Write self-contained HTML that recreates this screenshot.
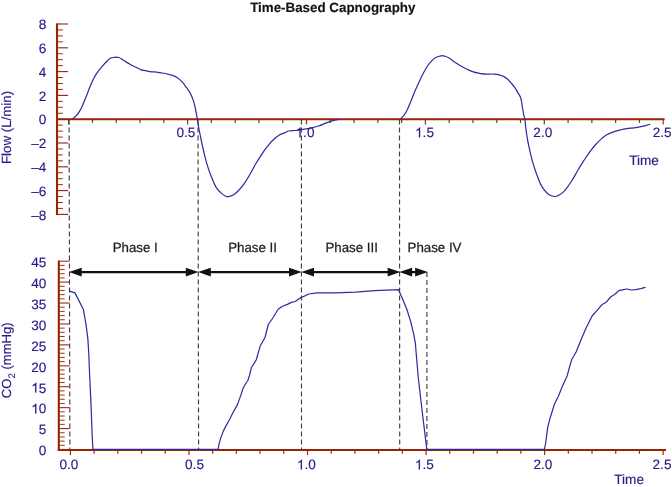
<!DOCTYPE html>
<html><head><meta charset="utf-8"><title>Time-Based Capnography</title>
<style>
html,body{margin:0;padding:0;background:#fff;}
body{width:672px;height:487px;overflow:hidden;font-family:"Liberation Sans",sans-serif;}
svg{display:block;will-change:transform;}
text{text-rendering:geometricPrecision;}
</style></head><body>
<svg width="672" height="487" viewBox="0 0 672 487">
<rect width="672" height="487" fill="#ffffff"/>
<line x1="57.0" y1="214.4" x2="68.1" y2="214.4" stroke="#9c2c12" stroke-width="1.15"/>
<line x1="57.0" y1="208.45" x2="62.9" y2="208.45" stroke="#9c2c12" stroke-width="1.0"/>
<line x1="57.0" y1="202.5" x2="62.9" y2="202.5" stroke="#9c2c12" stroke-width="1.0"/>
<line x1="57.0" y1="196.55" x2="62.9" y2="196.55" stroke="#9c2c12" stroke-width="1.0"/>
<line x1="57.0" y1="190.6" x2="68.1" y2="190.6" stroke="#9c2c12" stroke-width="1.15"/>
<line x1="57.0" y1="184.65" x2="62.9" y2="184.65" stroke="#9c2c12" stroke-width="1.0"/>
<line x1="57.0" y1="178.7" x2="62.9" y2="178.7" stroke="#9c2c12" stroke-width="1.0"/>
<line x1="57.0" y1="172.75" x2="62.9" y2="172.75" stroke="#9c2c12" stroke-width="1.0"/>
<line x1="57.0" y1="166.8" x2="68.1" y2="166.8" stroke="#9c2c12" stroke-width="1.15"/>
<line x1="57.0" y1="160.85" x2="62.9" y2="160.85" stroke="#9c2c12" stroke-width="1.0"/>
<line x1="57.0" y1="154.9" x2="62.9" y2="154.9" stroke="#9c2c12" stroke-width="1.0"/>
<line x1="57.0" y1="148.95" x2="62.9" y2="148.95" stroke="#9c2c12" stroke-width="1.0"/>
<line x1="57.0" y1="143" x2="68.1" y2="143" stroke="#9c2c12" stroke-width="1.15"/>
<line x1="57.0" y1="137.05" x2="62.9" y2="137.05" stroke="#9c2c12" stroke-width="1.0"/>
<line x1="57.0" y1="131.1" x2="62.9" y2="131.1" stroke="#9c2c12" stroke-width="1.0"/>
<line x1="57.0" y1="125.15" x2="62.9" y2="125.15" stroke="#9c2c12" stroke-width="1.0"/>
<line x1="57.0" y1="119.2" x2="68.1" y2="119.2" stroke="#9c2c12" stroke-width="1.15"/>
<line x1="57.0" y1="113.25" x2="62.9" y2="113.25" stroke="#9c2c12" stroke-width="1.0"/>
<line x1="57.0" y1="107.3" x2="62.9" y2="107.3" stroke="#9c2c12" stroke-width="1.0"/>
<line x1="57.0" y1="101.35" x2="62.9" y2="101.35" stroke="#9c2c12" stroke-width="1.0"/>
<line x1="57.0" y1="95.4" x2="68.1" y2="95.4" stroke="#9c2c12" stroke-width="1.15"/>
<line x1="57.0" y1="89.45" x2="62.9" y2="89.45" stroke="#9c2c12" stroke-width="1.0"/>
<line x1="57.0" y1="83.5" x2="62.9" y2="83.5" stroke="#9c2c12" stroke-width="1.0"/>
<line x1="57.0" y1="77.55" x2="62.9" y2="77.55" stroke="#9c2c12" stroke-width="1.0"/>
<line x1="57.0" y1="71.6" x2="68.1" y2="71.6" stroke="#9c2c12" stroke-width="1.15"/>
<line x1="57.0" y1="65.65" x2="62.9" y2="65.65" stroke="#9c2c12" stroke-width="1.0"/>
<line x1="57.0" y1="59.7" x2="62.9" y2="59.7" stroke="#9c2c12" stroke-width="1.0"/>
<line x1="57.0" y1="53.75" x2="62.9" y2="53.75" stroke="#9c2c12" stroke-width="1.0"/>
<line x1="57.0" y1="47.8" x2="68.1" y2="47.8" stroke="#9c2c12" stroke-width="1.15"/>
<line x1="57.0" y1="41.85" x2="62.9" y2="41.85" stroke="#9c2c12" stroke-width="1.0"/>
<line x1="57.0" y1="35.9" x2="62.9" y2="35.9" stroke="#9c2c12" stroke-width="1.0"/>
<line x1="57.0" y1="29.95" x2="62.9" y2="29.95" stroke="#9c2c12" stroke-width="1.0"/>
<line x1="57.0" y1="24" x2="68.1" y2="24" stroke="#9c2c12" stroke-width="1.15"/>
<line x1="68.7" y1="119.2" x2="68.7" y2="124.4" stroke="#9c2c12" stroke-width="1.2"/>
<line x1="92.48" y1="119.2" x2="92.48" y2="122.9" stroke="#9c2c12" stroke-width="1.2"/>
<line x1="116.26" y1="119.2" x2="116.26" y2="122.9" stroke="#9c2c12" stroke-width="1.2"/>
<line x1="140.04" y1="119.2" x2="140.04" y2="122.9" stroke="#9c2c12" stroke-width="1.2"/>
<line x1="163.82" y1="119.2" x2="163.82" y2="122.9" stroke="#9c2c12" stroke-width="1.2"/>
<line x1="187.6" y1="119.2" x2="187.6" y2="124.4" stroke="#9c2c12" stroke-width="1.2"/>
<line x1="211.38" y1="119.2" x2="211.38" y2="122.9" stroke="#9c2c12" stroke-width="1.2"/>
<line x1="235.16" y1="119.2" x2="235.16" y2="122.9" stroke="#9c2c12" stroke-width="1.2"/>
<line x1="258.94" y1="119.2" x2="258.94" y2="122.9" stroke="#9c2c12" stroke-width="1.2"/>
<line x1="282.72" y1="119.2" x2="282.72" y2="122.9" stroke="#9c2c12" stroke-width="1.2"/>
<line x1="306.5" y1="119.2" x2="306.5" y2="124.4" stroke="#9c2c12" stroke-width="1.2"/>
<line x1="330.28" y1="119.2" x2="330.28" y2="122.9" stroke="#9c2c12" stroke-width="1.2"/>
<line x1="354.06" y1="119.2" x2="354.06" y2="122.9" stroke="#9c2c12" stroke-width="1.2"/>
<line x1="377.84" y1="119.2" x2="377.84" y2="122.9" stroke="#9c2c12" stroke-width="1.2"/>
<line x1="401.62" y1="119.2" x2="401.62" y2="122.9" stroke="#9c2c12" stroke-width="1.2"/>
<line x1="425.4" y1="119.2" x2="425.4" y2="124.4" stroke="#9c2c12" stroke-width="1.2"/>
<line x1="449.18" y1="119.2" x2="449.18" y2="122.9" stroke="#9c2c12" stroke-width="1.2"/>
<line x1="472.96" y1="119.2" x2="472.96" y2="122.9" stroke="#9c2c12" stroke-width="1.2"/>
<line x1="496.74" y1="119.2" x2="496.74" y2="122.9" stroke="#9c2c12" stroke-width="1.2"/>
<line x1="520.52" y1="119.2" x2="520.52" y2="122.9" stroke="#9c2c12" stroke-width="1.2"/>
<line x1="544.3" y1="119.2" x2="544.3" y2="124.4" stroke="#9c2c12" stroke-width="1.2"/>
<line x1="568.08" y1="119.2" x2="568.08" y2="122.9" stroke="#9c2c12" stroke-width="1.2"/>
<line x1="591.86" y1="119.2" x2="591.86" y2="122.9" stroke="#9c2c12" stroke-width="1.2"/>
<line x1="615.64" y1="119.2" x2="615.64" y2="122.9" stroke="#9c2c12" stroke-width="1.2"/>
<line x1="639.42" y1="119.2" x2="639.42" y2="122.9" stroke="#9c2c12" stroke-width="1.2"/>
<line x1="663.2" y1="119.2" x2="663.2" y2="124.4" stroke="#9c2c12" stroke-width="1.2"/>
<line x1="57.0" y1="23.4" x2="57.0" y2="215.1" stroke="#982402" stroke-width="2.1"/>
<line x1="56.0" y1="119.2" x2="664.6" y2="119.2" stroke="#982402" stroke-width="2.1"/>
<line x1="58.8" y1="449.5" x2="69.6" y2="449.5" stroke="#9c2c12" stroke-width="1.1"/>
<line x1="58.8" y1="445.31" x2="64.7" y2="445.31" stroke="#9c2c12" stroke-width="0.95"/>
<line x1="58.8" y1="441.13" x2="64.7" y2="441.13" stroke="#9c2c12" stroke-width="0.95"/>
<line x1="58.8" y1="436.94" x2="64.7" y2="436.94" stroke="#9c2c12" stroke-width="0.95"/>
<line x1="58.8" y1="432.76" x2="64.7" y2="432.76" stroke="#9c2c12" stroke-width="0.95"/>
<line x1="58.8" y1="428.57" x2="69.6" y2="428.57" stroke="#9c2c12" stroke-width="1.1"/>
<line x1="58.8" y1="424.39" x2="64.7" y2="424.39" stroke="#9c2c12" stroke-width="0.95"/>
<line x1="58.8" y1="420.2" x2="64.7" y2="420.2" stroke="#9c2c12" stroke-width="0.95"/>
<line x1="58.8" y1="416.02" x2="64.7" y2="416.02" stroke="#9c2c12" stroke-width="0.95"/>
<line x1="58.8" y1="411.83" x2="64.7" y2="411.83" stroke="#9c2c12" stroke-width="0.95"/>
<line x1="58.8" y1="407.65" x2="69.6" y2="407.65" stroke="#9c2c12" stroke-width="1.1"/>
<line x1="58.8" y1="403.47" x2="64.7" y2="403.47" stroke="#9c2c12" stroke-width="0.95"/>
<line x1="58.8" y1="399.28" x2="64.7" y2="399.28" stroke="#9c2c12" stroke-width="0.95"/>
<line x1="58.8" y1="395.1" x2="64.7" y2="395.1" stroke="#9c2c12" stroke-width="0.95"/>
<line x1="58.8" y1="390.91" x2="64.7" y2="390.91" stroke="#9c2c12" stroke-width="0.95"/>
<line x1="58.8" y1="386.73" x2="69.6" y2="386.73" stroke="#9c2c12" stroke-width="1.1"/>
<line x1="58.8" y1="382.54" x2="64.7" y2="382.54" stroke="#9c2c12" stroke-width="0.95"/>
<line x1="58.8" y1="378.36" x2="64.7" y2="378.36" stroke="#9c2c12" stroke-width="0.95"/>
<line x1="58.8" y1="374.17" x2="64.7" y2="374.17" stroke="#9c2c12" stroke-width="0.95"/>
<line x1="58.8" y1="369.99" x2="64.7" y2="369.99" stroke="#9c2c12" stroke-width="0.95"/>
<line x1="58.8" y1="365.8" x2="69.6" y2="365.8" stroke="#9c2c12" stroke-width="1.1"/>
<line x1="58.8" y1="361.62" x2="64.7" y2="361.62" stroke="#9c2c12" stroke-width="0.95"/>
<line x1="58.8" y1="357.43" x2="64.7" y2="357.43" stroke="#9c2c12" stroke-width="0.95"/>
<line x1="58.8" y1="353.25" x2="64.7" y2="353.25" stroke="#9c2c12" stroke-width="0.95"/>
<line x1="58.8" y1="349.06" x2="64.7" y2="349.06" stroke="#9c2c12" stroke-width="0.95"/>
<line x1="58.8" y1="344.88" x2="69.6" y2="344.88" stroke="#9c2c12" stroke-width="1.1"/>
<line x1="58.8" y1="340.69" x2="64.7" y2="340.69" stroke="#9c2c12" stroke-width="0.95"/>
<line x1="58.8" y1="336.5" x2="64.7" y2="336.5" stroke="#9c2c12" stroke-width="0.95"/>
<line x1="58.8" y1="332.32" x2="64.7" y2="332.32" stroke="#9c2c12" stroke-width="0.95"/>
<line x1="58.8" y1="328.13" x2="64.7" y2="328.13" stroke="#9c2c12" stroke-width="0.95"/>
<line x1="58.8" y1="323.95" x2="69.6" y2="323.95" stroke="#9c2c12" stroke-width="1.1"/>
<line x1="58.8" y1="319.76" x2="64.7" y2="319.76" stroke="#9c2c12" stroke-width="0.95"/>
<line x1="58.8" y1="315.58" x2="64.7" y2="315.58" stroke="#9c2c12" stroke-width="0.95"/>
<line x1="58.8" y1="311.39" x2="64.7" y2="311.39" stroke="#9c2c12" stroke-width="0.95"/>
<line x1="58.8" y1="307.21" x2="64.7" y2="307.21" stroke="#9c2c12" stroke-width="0.95"/>
<line x1="58.8" y1="303.02" x2="69.6" y2="303.02" stroke="#9c2c12" stroke-width="1.1"/>
<line x1="58.8" y1="298.84" x2="64.7" y2="298.84" stroke="#9c2c12" stroke-width="0.95"/>
<line x1="58.8" y1="294.65" x2="64.7" y2="294.65" stroke="#9c2c12" stroke-width="0.95"/>
<line x1="58.8" y1="290.47" x2="64.7" y2="290.47" stroke="#9c2c12" stroke-width="0.95"/>
<line x1="58.8" y1="286.29" x2="64.7" y2="286.29" stroke="#9c2c12" stroke-width="0.95"/>
<line x1="58.8" y1="282.1" x2="69.6" y2="282.1" stroke="#9c2c12" stroke-width="1.1"/>
<line x1="58.8" y1="277.92" x2="64.7" y2="277.92" stroke="#9c2c12" stroke-width="0.95"/>
<line x1="58.8" y1="273.73" x2="64.7" y2="273.73" stroke="#9c2c12" stroke-width="0.95"/>
<line x1="58.8" y1="269.55" x2="64.7" y2="269.55" stroke="#9c2c12" stroke-width="0.95"/>
<line x1="58.8" y1="265.36" x2="64.7" y2="265.36" stroke="#9c2c12" stroke-width="0.95"/>
<line x1="58.8" y1="261.18" x2="69.6" y2="261.18" stroke="#9c2c12" stroke-width="1.1"/>
<line x1="70.4" y1="450.0" x2="70.4" y2="455" stroke="#9c2c12" stroke-width="1.2"/>
<line x1="94.11" y1="450.0" x2="94.11" y2="453.8" stroke="#9c2c12" stroke-width="1.2"/>
<line x1="117.82" y1="450.0" x2="117.82" y2="453.8" stroke="#9c2c12" stroke-width="1.2"/>
<line x1="141.53" y1="450.0" x2="141.53" y2="453.8" stroke="#9c2c12" stroke-width="1.2"/>
<line x1="165.24" y1="450.0" x2="165.24" y2="453.8" stroke="#9c2c12" stroke-width="1.2"/>
<line x1="188.95" y1="450.0" x2="188.95" y2="455" stroke="#9c2c12" stroke-width="1.2"/>
<line x1="212.66" y1="450.0" x2="212.66" y2="453.8" stroke="#9c2c12" stroke-width="1.2"/>
<line x1="236.37" y1="450.0" x2="236.37" y2="453.8" stroke="#9c2c12" stroke-width="1.2"/>
<line x1="260.08" y1="450.0" x2="260.08" y2="453.8" stroke="#9c2c12" stroke-width="1.2"/>
<line x1="283.79" y1="450.0" x2="283.79" y2="453.8" stroke="#9c2c12" stroke-width="1.2"/>
<line x1="307.5" y1="450.0" x2="307.5" y2="455" stroke="#9c2c12" stroke-width="1.2"/>
<line x1="331.21" y1="450.0" x2="331.21" y2="453.8" stroke="#9c2c12" stroke-width="1.2"/>
<line x1="354.92" y1="450.0" x2="354.92" y2="453.8" stroke="#9c2c12" stroke-width="1.2"/>
<line x1="378.63" y1="450.0" x2="378.63" y2="453.8" stroke="#9c2c12" stroke-width="1.2"/>
<line x1="402.34" y1="450.0" x2="402.34" y2="453.8" stroke="#9c2c12" stroke-width="1.2"/>
<line x1="426.05" y1="450.0" x2="426.05" y2="455" stroke="#9c2c12" stroke-width="1.2"/>
<line x1="449.76" y1="450.0" x2="449.76" y2="453.8" stroke="#9c2c12" stroke-width="1.2"/>
<line x1="473.47" y1="450.0" x2="473.47" y2="453.8" stroke="#9c2c12" stroke-width="1.2"/>
<line x1="497.18" y1="450.0" x2="497.18" y2="453.8" stroke="#9c2c12" stroke-width="1.2"/>
<line x1="520.89" y1="450.0" x2="520.89" y2="453.8" stroke="#9c2c12" stroke-width="1.2"/>
<line x1="544.6" y1="450.0" x2="544.6" y2="455" stroke="#9c2c12" stroke-width="1.2"/>
<line x1="568.31" y1="450.0" x2="568.31" y2="453.8" stroke="#9c2c12" stroke-width="1.2"/>
<line x1="592.02" y1="450.0" x2="592.02" y2="453.8" stroke="#9c2c12" stroke-width="1.2"/>
<line x1="615.73" y1="450.0" x2="615.73" y2="453.8" stroke="#9c2c12" stroke-width="1.2"/>
<line x1="639.44" y1="450.0" x2="639.44" y2="453.8" stroke="#9c2c12" stroke-width="1.2"/>
<line x1="663.15" y1="450.0" x2="663.15" y2="455" stroke="#9c2c12" stroke-width="1.2"/>
<line x1="58.8" y1="260.6" x2="58.8" y2="451" stroke="#982402" stroke-width="2.1"/>
<line x1="57.8" y1="450.0" x2="666" y2="450.0" stroke="#982402" stroke-width="2.2"/>
<line x1="69.1" y1="119.5" x2="69.9" y2="449" stroke="#404040" stroke-width="1.15" stroke-dasharray="5 3"/>
<line x1="198.0" y1="119.5" x2="198.6" y2="449" stroke="#404040" stroke-width="1.15" stroke-dasharray="5 3"/>
<line x1="301.4" y1="119.5" x2="301.5" y2="449" stroke="#404040" stroke-width="1.15" stroke-dasharray="5 3"/>
<line x1="399.5" y1="119.5" x2="399.7" y2="449" stroke="#404040" stroke-width="1.15" stroke-dasharray="5 3"/>
<line x1="426.9" y1="272" x2="426.9" y2="449" stroke="#404040" stroke-width="1.15" stroke-dasharray="5 3"/>
<path d="M72.2 119C73.04 118.3 74.17 117.66 75.8 116C77.43 114.34 77.54 114.56 79.2 111.9C80.86 109.24 81.06 108.73 82.9 104.6C84.74 100.47 85.15 99.06 87.1 94.2C89.05 89.34 89.17 88.37 91.25 83.75C93.33 79.13 93.44 78.45 96 74.4C98.56 70.35 99.33 69.78 102.2 66.4C105.07 63.02 106.39 61.79 108.3 59.9C110.21 58.01 109.23 58.86 110.4 58.3C111.57 57.74 111.34 57.69 113.3 57.5C115.26 57.31 116.35 56.8 118.8 57.5C121.25 58.2 121.19 58.94 123.8 60.5C126.41 62.06 127.15 62.61 130 64.2C132.85 65.79 133.38 65.99 136 67.3C138.62 68.61 139.06 69.03 141.25 69.8C143.44 70.57 143.36 70.16 145.4 70.6C147.44 71.04 147.81 71.4 150 71.7C152.19 72 152.47 71.67 154.8 71.9C157.13 72.13 157.33 72.27 160 72.7C162.67 73.13 163.33 73.12 166.25 73.75C169.17 74.38 169.83 74.43 172.5 75.4C175.17 76.37 175.51 76.43 177.7 77.9C179.89 79.37 179.96 79.6 181.9 81.7C183.84 83.8 184.06 84.24 186 86.9C187.94 89.56 188.5 89.95 190.2 93.1C191.9 96.25 192.09 96.75 193.3 100.4C194.51 104.05 194.47 104.41 195.4 108.75C196.33 113.09 196.46 114.28 197.3 119C198.14 123.72 198.04 123.87 199 129C199.96 134.13 200.16 135.17 201.4 141C202.64 146.83 202.78 147.91 204.3 154C205.82 160.09 206.13 161.52 207.9 167.1C209.67 172.68 209.96 173.16 211.9 177.9C213.84 182.64 214.08 183.9 216.2 187.4C218.32 190.9 218.78 190.85 221 192.9C223.22 194.95 223.76 195.38 225.7 196.2C227.64 197.02 227.36 196.8 229.3 196.4C231.24 196 231.78 195.95 234 194.5C236.22 193.05 236.37 192.81 238.8 190.2C241.23 187.59 241.72 187.13 244.4 183.3C247.08 179.47 247.71 178.23 250.3 173.8C252.89 169.37 252.91 168.73 255.5 164.3C258.09 159.87 258.62 158.98 261.4 154.8C264.18 150.62 264.62 149.9 267.4 146.4C270.18 142.9 270.52 142.46 273.3 139.8C276.08 137.14 276.52 136.68 279.3 135C282.08 133.32 282.98 133.53 285.2 132.6C287.42 131.67 286.56 131.49 288.8 131C291.04 130.51 291.74 130.85 294.8 130.5C297.86 130.15 298.59 130.01 301.9 129.5C305.21 128.99 305.1 129.12 309 128.3C312.9 127.48 314.7 127.21 318.6 126C322.5 124.79 322.36 124.34 325.7 123.1C329.04 121.86 329.94 121.59 332.9 120.7C335.86 119.81 337.12 119.63 338.4 119.3" fill="none" stroke="#2c2ca2" stroke-width="1.22" stroke-linejoin="round" stroke-linecap="round"/>
<path d="M400.4 119C401.29 118.07 402.5 117.39 404.2 115C405.9 112.61 406.16 111.9 407.7 108.75C409.24 105.6 409.1 105.64 410.8 101.5C412.5 97.36 413.04 95.62 415 91C416.96 86.38 417.26 85.83 419.2 81.7C421.14 77.57 421.36 76.96 423.3 73.3C425.24 69.64 425.54 68.92 427.5 66C429.46 63.08 429.76 62.78 431.7 60.8C433.64 58.82 433.63 58.67 435.8 57.5C437.97 56.33 438.81 56.09 441 55.8C443.19 55.51 443.24 55.67 445.2 56.25C447.16 56.83 447.21 56.98 449.4 58.3C451.59 59.62 451.94 60.1 454.6 61.9C457.26 63.7 457.88 64.3 460.8 66C463.72 67.7 464.18 67.82 467.1 69.2C470.02 70.58 470.38 70.94 473.3 71.9C476.22 72.86 476.68 72.76 479.6 73.3C482.52 73.84 482.88 74.04 485.8 74.2C488.72 74.36 489.42 73.95 492.1 74C494.78 74.05 494.87 73.93 497.3 74.4C499.73 74.87 500.31 75.04 502.5 76C504.69 76.96 504.76 76.94 506.7 78.5C508.64 80.06 508.86 80.51 510.8 82.7C512.74 84.89 513.3 85.47 515 87.9C516.7 90.33 516.75 90.67 518.1 93.1C519.45 95.53 519.82 95.13 520.8 98.3C521.78 101.47 521.61 102.8 522.3 106.7C522.99 110.6 523.17 112.13 523.75 115C524.33 117.87 524.23 115.27 524.8 119C525.37 122.73 525.31 124.89 526.2 131C527.09 137.11 527.11 137.99 528.6 145.2C530.09 152.41 530.55 154.67 532.6 161.9C534.65 169.13 535.18 170.37 537.4 176.2C539.62 182.03 539.6 182.75 542.1 186.9C544.6 191.05 545.32 191.78 548.1 194C550.88 196.22 551.78 196 554 196.4C556.22 196.8 555.64 196.52 557.6 195.7C559.56 194.88 560.18 194.79 562.4 192.9C564.62 191.01 564.77 190.66 567.1 187.6C569.43 184.54 569.88 183.86 572.4 179.8C574.92 175.74 575.24 174.66 577.9 170.2C580.56 165.74 581.02 164.97 583.8 160.7C586.58 156.43 587.02 155.68 589.8 151.9C592.58 148.12 592.92 147.6 595.7 144.5C598.48 141.4 599.2 140.82 601.7 138.6C604.2 136.38 603.9 136.45 606.4 135C608.9 133.55 609.34 133.52 612.4 132.4C615.46 131.28 616.16 131.09 619.5 130.2C622.84 129.31 623.36 129.14 626.7 128.6C630.04 128.06 630.46 128.34 633.8 127.9C637.14 127.46 637.94 127.33 641 126.7C644.06 126.07 644.85 125.76 646.9 125.2C648.95 124.64 649.12 124.51 649.8 124.3" fill="none" stroke="#2c2ca2" stroke-width="1.22" stroke-linejoin="round" stroke-linecap="round"/>
<path d="M69.6 291.1L74.95 292.9L83.3 309.2L86 324.4L87.9 339.1L88.8 353.9L89.4 370L90.95 402.6L92.1 433.8L92.9 449.4L218.1 449.4L219 444.2L220.7 438.1L223.3 431.1L226 425.9L229.4 419.8L232.9 412.8L237.3 404.9L239.9 397.9L243.1 388.3L245.5 384L247.8 380.5L249.5 375.5L251.3 367.8L256.2 360L260.1 346.3L265 337.5L268.3 324.5L272.8 318L278.1 309.3L282.5 306.3L287.4 304.4L291.3 302.4L295.2 301.5L300.1 298.1L308.9 294L316.7 292.9L335 292.9L355.4 292.2L374.9 290.6L398.3 289.6L402.2 298L407 309.7L410.9 322.4L413.9 335.1L415.4 343.7L418.2 377L421.9 409L426.8 449.4L544.4 449.4L545.7 443L547.7 427.4L550.2 417.7L554.5 404L558.4 396.2L562.3 386.5L567.2 375.7L569.4 367.5L571.6 359.8L576.1 352L580.4 341.3L586.2 327.7L592.1 316L596.9 310.7L601.8 304.8L606.1 302.3L610.6 297L614.5 294.5L619 290.6L623.3 289.6L626.8 289L631.1 290L635.9 289.6L640.8 288.7L645.1 287.3" fill="none" stroke="#2c2ca2" stroke-width="1.22" stroke-linejoin="round" stroke-linecap="round"/>
<line x1="80.7" y1="272.1" x2="186.8" y2="272.1" stroke="#111" stroke-width="2.3"/><path d="M69.0 272.1L81.7 267.8L81.7 276.40000000000003Z" fill="#111"/><path d="M198.5 272.1L185.8 267.8L185.8 276.40000000000003Z" fill="#111"/>
<line x1="209.79999999999998" y1="272.1" x2="290.0" y2="272.1" stroke="#111" stroke-width="2.3"/><path d="M198.1 272.1L210.79999999999998 267.8L210.79999999999998 276.40000000000003Z" fill="#111"/><path d="M301.7 272.1L289.0 267.8L289.0 276.40000000000003Z" fill="#111"/>
<line x1="313.0" y1="272.1" x2="388.6" y2="272.1" stroke="#111" stroke-width="2.3"/><path d="M301.3 272.1L314.0 267.8L314.0 276.40000000000003Z" fill="#111"/><path d="M400.3 272.1L387.6 267.8L387.6 276.40000000000003Z" fill="#111"/>
<line x1="411.09999999999997" y1="272.1" x2="416.1" y2="272.1" stroke="#111" stroke-width="2.3"/><path d="M399.4 272.1L412.09999999999997 267.8L412.09999999999997 276.40000000000003Z" fill="#111"/><path d="M427.8 272.1L415.1 267.8L415.1 276.40000000000003Z" fill="#111"/>
<text x="332.8" y="11.8" text-anchor="middle" font-family="Liberation Sans, sans-serif" font-size="13.36" font-weight="bold" fill="#141414" stroke="#141414" stroke-width="0.15">Time-Based Capnography</text>
<text x="31.28" y="219.6" font-family="Liberation Sans, sans-serif" font-size="13.6" stroke="#281a86" stroke-width="0.15" fill="#281a86">–8</text>
<text x="31.28" y="195.8" font-family="Liberation Sans, sans-serif" font-size="13.6" stroke="#281a86" stroke-width="0.15" fill="#281a86">–6</text>
<text x="31.28" y="172" font-family="Liberation Sans, sans-serif" font-size="13.6" stroke="#281a86" stroke-width="0.15" fill="#281a86">–4</text>
<text x="31.28" y="148.2" font-family="Liberation Sans, sans-serif" font-size="13.6" stroke="#281a86" stroke-width="0.15" fill="#281a86">–2</text>
<text x="38.84" y="124.4" font-family="Liberation Sans, sans-serif" font-size="13.6" stroke="#281a86" stroke-width="0.15" fill="#281a86">0</text>
<text x="38.84" y="100.6" font-family="Liberation Sans, sans-serif" font-size="13.6" stroke="#281a86" stroke-width="0.15" fill="#281a86">2</text>
<text x="38.84" y="76.8" font-family="Liberation Sans, sans-serif" font-size="13.6" stroke="#281a86" stroke-width="0.15" fill="#281a86">4</text>
<text x="38.84" y="53" font-family="Liberation Sans, sans-serif" font-size="13.6" stroke="#281a86" stroke-width="0.15" fill="#281a86">6</text>
<text x="38.84" y="29.2" font-family="Liberation Sans, sans-serif" font-size="13.6" stroke="#281a86" stroke-width="0.15" fill="#281a86">8</text>
<text x="38.84" y="455.3" font-family="Liberation Sans, sans-serif" font-size="13.6" stroke="#281a86" stroke-width="0.15" fill="#281a86">0</text>
<text x="38.84" y="434.38" font-family="Liberation Sans, sans-serif" font-size="13.6" stroke="#281a86" stroke-width="0.15" fill="#281a86">5</text>
<path transform="translate(31.28 413.45) scale(0.006641 -0.006641)" d="M763 0H583V1147Q518 1085 412.5 1023T223 930V1104Q373 1174.5 485 1275T644 1470H763Z" fill="#281a86" stroke="#281a86" stroke-width="22.6"/><text x="38.84" y="413.45" font-family="Liberation Sans, sans-serif" font-size="13.6" stroke="#281a86" stroke-width="0.15" fill="#281a86">0</text>
<path transform="translate(31.28 392.53) scale(0.006641 -0.006641)" d="M763 0H583V1147Q518 1085 412.5 1023T223 930V1104Q373 1174.5 485 1275T644 1470H763Z" fill="#281a86" stroke="#281a86" stroke-width="22.6"/><text x="38.84" y="392.53" font-family="Liberation Sans, sans-serif" font-size="13.6" stroke="#281a86" stroke-width="0.15" fill="#281a86">5</text>
<text x="31.28" y="371.6" font-family="Liberation Sans, sans-serif" font-size="13.6" stroke="#281a86" stroke-width="0.15" fill="#281a86">20</text>
<text x="31.28" y="350.68" font-family="Liberation Sans, sans-serif" font-size="13.6" stroke="#281a86" stroke-width="0.15" fill="#281a86">25</text>
<text x="31.28" y="329.75" font-family="Liberation Sans, sans-serif" font-size="13.6" stroke="#281a86" stroke-width="0.15" fill="#281a86">30</text>
<text x="31.28" y="308.82" font-family="Liberation Sans, sans-serif" font-size="13.6" stroke="#281a86" stroke-width="0.15" fill="#281a86">35</text>
<text x="31.28" y="287.9" font-family="Liberation Sans, sans-serif" font-size="13.6" stroke="#281a86" stroke-width="0.15" fill="#281a86">40</text>
<text x="31.28" y="266.98" font-family="Liberation Sans, sans-serif" font-size="13.6" stroke="#281a86" stroke-width="0.15" fill="#281a86">45</text>
<text x="176.45" y="137.3" font-family="Liberation Sans, sans-serif" font-size="13.6" stroke="#281a86" stroke-width="0.15" fill="#281a86">0.5</text>
<path transform="translate(295.55 137.3) scale(0.006641 -0.006641)" d="M763 0H583V1147Q518 1085 412.5 1023T223 930V1104Q373 1174.5 485 1275T644 1470H763Z" fill="#281a86" stroke="#281a86" stroke-width="22.6"/><text x="303.11" y="137.3" font-family="Liberation Sans, sans-serif" font-size="13.6" stroke="#281a86" stroke-width="0.15" fill="#281a86">.0</text>
<path transform="translate(415.05 137.3) scale(0.006641 -0.006641)" d="M763 0H583V1147Q518 1085 412.5 1023T223 930V1104Q373 1174.5 485 1275T644 1470H763Z" fill="#281a86" stroke="#281a86" stroke-width="22.6"/><text x="422.61" y="137.3" font-family="Liberation Sans, sans-serif" font-size="13.6" stroke="#281a86" stroke-width="0.15" fill="#281a86">.5</text>
<text x="533.35" y="137.3" font-family="Liberation Sans, sans-serif" font-size="13.6" stroke="#281a86" stroke-width="0.15" fill="#281a86">2.0</text>
<text x="652.75" y="137.3" font-family="Liberation Sans, sans-serif" font-size="13.6" stroke="#281a86" stroke-width="0.15" fill="#281a86">2.5</text>
<text x="59.45" y="469.4" font-family="Liberation Sans, sans-serif" font-size="13.6" stroke="#281a86" stroke-width="0.15" fill="#281a86">0.0</text>
<text x="185.05" y="469.4" font-family="Liberation Sans, sans-serif" font-size="13.6" stroke="#281a86" stroke-width="0.15" fill="#281a86">0.5</text>
<path transform="translate(296.85 469.4) scale(0.006641 -0.006641)" d="M763 0H583V1147Q518 1085 412.5 1023T223 930V1104Q373 1174.5 485 1275T644 1470H763Z" fill="#281a86" stroke="#281a86" stroke-width="22.6"/><text x="304.41" y="469.4" font-family="Liberation Sans, sans-serif" font-size="13.6" stroke="#281a86" stroke-width="0.15" fill="#281a86">.0</text>
<path transform="translate(414.85 469.4) scale(0.006641 -0.006641)" d="M763 0H583V1147Q518 1085 412.5 1023T223 930V1104Q373 1174.5 485 1275T644 1470H763Z" fill="#281a86" stroke="#281a86" stroke-width="22.6"/><text x="422.41" y="469.4" font-family="Liberation Sans, sans-serif" font-size="13.6" stroke="#281a86" stroke-width="0.15" fill="#281a86">.5</text>
<text x="533.45" y="469.4" font-family="Liberation Sans, sans-serif" font-size="13.6" stroke="#281a86" stroke-width="0.15" fill="#281a86">2.0</text>
<text x="652.55" y="469.4" font-family="Liberation Sans, sans-serif" font-size="13.6" stroke="#281a86" stroke-width="0.15" fill="#281a86">2.5</text>
<text x="629.2" y="164.8" font-family="Liberation Sans, sans-serif" font-size="13.6" stroke="#281a86" stroke-width="0.15" fill="#281a86">Time</text>
<text x="614.3" y="484" font-family="Liberation Sans, sans-serif" font-size="13.6" stroke="#281a86" stroke-width="0.15" fill="#281a86">Time</text>
<text transform="translate(11.3 164) rotate(-90)" font-family="Liberation Sans, sans-serif" font-size="13.3" fill="#281a86" stroke="#281a86" stroke-width="0.15">Flow (L/min)</text>
<text transform="translate(11.3 398.2) rotate(-90)" font-family="Liberation Sans, sans-serif" font-size="13.1" fill="#281a86" stroke="#281a86" stroke-width="0.15">CO<tspan font-size="9.6" dy="3.9">2</tspan><tspan dy="-3.9"> (mmHg)</tspan></text>
<text x="135.2" y="252.1" text-anchor="middle" font-family="Liberation Sans, sans-serif" font-size="13.3" fill="#1e1e1e" stroke="#1e1e1e" stroke-width="0.25">Phase I</text>
<text x="252.6" y="252.1" text-anchor="middle" font-family="Liberation Sans, sans-serif" font-size="13.3" fill="#1e1e1e" stroke="#1e1e1e" stroke-width="0.25">Phase II</text>
<text x="351.7" y="252.1" text-anchor="middle" font-family="Liberation Sans, sans-serif" font-size="13.3" fill="#1e1e1e" stroke="#1e1e1e" stroke-width="0.25">Phase III</text>
<text x="434.5" y="252.1" text-anchor="middle" font-family="Liberation Sans, sans-serif" font-size="13.3" fill="#1e1e1e" stroke="#1e1e1e" stroke-width="0.25">Phase IV</text>
</svg>
</body></html>
